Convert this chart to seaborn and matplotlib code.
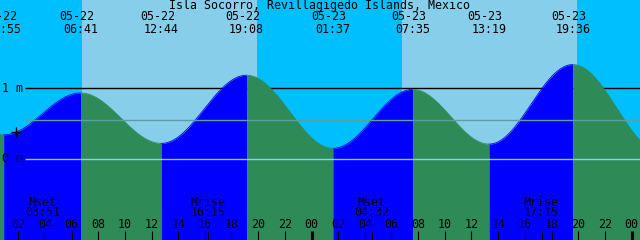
import numpy as np
import pandas as pd
import matplotlib
matplotlib.use("Agg")
import matplotlib.pyplot as plt
import seaborn as sns
from matplotlib.transforms import blended_transform_factory

# ---------------- data ----------------
title = "Isla Socorro, Revillagigedo Islands, Mexico"
extreme_dates = ["05-22", "05-22", "05-22", "05-22", "05-23", "05-23", "05-23", "05-23"]
extreme_days = [0, 0, 0, 0, 1, 1, 1, 1]
extreme_times = ["00:55", "06:41", "12:44", "19:08", "01:37", "07:35", "13:19", "19:36"]
extreme_heights = [0.34, 0.93, 0.22, 1.18, 0.15, 0.98, 0.21, 1.33]
# estimated extremes just outside the visible window (hours from 05-22 00:00, m)
prev_extreme_hour, prev_extreme_height = -5.6, 1.10
next_extreme_hour, next_extreme_height = 50.2, 0.10

sunrise_times = ["06:47", "06:47"]
sunset_times = ["19:55", "19:55"]
moon_names = ["Mset", "Mrise", "Mset", "Mrise"]
moon_times = ["03:51", "16:15", "04:32", "17:15"]
moon_days = [0, 0, 1, 1]

now_hour, now_height = 1.84, 0.38

hour_ticks = list(range(2, 49, 2))
tick_labels = [f"{h % 24:02d}" for h in hour_ticks]
level_values = [1.0, 0.55, 0.0]
level_labels = ["1 m", None, "0 m"]
level_colors = ["black", "#5f9ea0", "#87cefa"]

# ---------------- helpers ----------------
def hours(hhmm, day):
    h, m = hhmm.split(":")
    return 24 * day + int(h) + int(m) / 60.0

X0, X1 = 0.6375, 48.6375
PX_PER_M = 71.0
Y0 = -(240 - 159) / PX_PER_M
Y1 = 159 / PX_PER_M

def xpix(p):
    return p / 640 * (X1 - X0) + X0

def yfrac(p):
    return 1 - p / 240

ext_t = [prev_extreme_hour] + [hours(t, d) for t, d in zip(extreme_times, extreme_days)] + [next_extreme_hour]
ext_h = [prev_extreme_height] + extreme_heights + [next_extreme_height]

rows = []
for i in range(len(ext_t) - 1):
    t = np.linspace(ext_t[i], ext_t[i + 1], 300)
    f = (1 - np.cos(np.pi * (t - ext_t[i]) / (ext_t[i + 1] - ext_t[i]))) / 2
    h = ext_h[i] + (ext_h[i + 1] - ext_h[i]) * f
    for tt, hh in zip(t, h):
        rows.append((i, tt, hh, "rise" if ext_h[i + 1] > ext_h[i] else "fall"))
curve = pd.DataFrame(rows, columns=["seg", "hour", "height", "dir"])

# ---------------- plot ----------------
sns.set_theme(style="white")
plt.rcParams["font.family"] = ["DejaVu Sans Mono", "DejaVu Sans"]
plt.rcParams["text.color"] = "black"
FS = 8.4
TXT = dict(fontsize=FS, color="black", zorder=6)

fig = plt.figure(figsize=(6.4, 2.4), dpi=100)
ax = fig.add_axes([0, 0, 1, 1])
ax.set_facecolor("#00bfff")
ax.set_xlim(X0, X1)
ax.set_ylim(Y0, Y1)
for s in ax.spines.values():
    s.set_visible(False)
ax.set_xticks([])
ax.set_yticks([])
trans = blended_transform_factory(ax.transData, ax.transAxes)

for d, (sr, ss) in enumerate(zip(sunrise_times, sunset_times)):
    ax.axvspan(hours(sr, d), hours(ss, d), color="#87ceeb", lw=0, zorder=0)

line_start = xpix(25)
for v, c in zip(level_values, level_colors):
    ax.hlines(v, line_start, X1, colors=c, lw=1.0, zorder=1 if c == "black" else 3)

colors = {"rise": "#0000ff", "fall": "#2e8b57"}
for seg, g in curve.groupby("seg"):
    c = colors[g["dir"].iloc[0]]
    ax.fill_between(g["hour"], Y0, g["height"], color=c, lw=0, zorder=2)
    sns.lineplot(data=g, x="hour", y="height", color=c, lw=0.6, ax=ax, zorder=2,
                 legend=False, sort=False)

sns.scatterplot(x=[now_hour], y=[now_height], marker="+", s=60, color="black",
                linewidth=1.0, ax=ax, zorder=5)

for v, lab in zip(level_values, level_labels):
    if lab:
        ax.text(xpix(2), v, lab, ha="left", va="center", **TXT)

# top labels
ax.text(xpix(320), yfrac(6), title, transform=trans, ha="center", va="center", **TXT)
for dte, tm, d in zip(extreme_dates, extreme_times, extreme_days):
    t = hours(tm, d)
    ax.text(t - 0.3, yfrac(17), dte, transform=trans, ha="center", va="center", **TXT)
    ax.text(t, yfrac(29.5), tm, transform=trans, ha="center", va="center", **TXT)

# bottom ticks
for h, lab in zip(hour_ticks, tick_labels):
    ax.vlines(h, 0, 9 / 240, transform=trans, colors="black",
              lw=2.2 if h % 24 == 0 else 0.8, zorder=6)
    ax.text(h, yfrac(225), lab, transform=trans, ha="center", va="center", **TXT)

for name, tm, d in zip(moon_names, moon_times, moon_days):
    t = hours(tm, d)
    ax.vlines(t, 0, 8 / 240, transform=trans, colors="black", lw=0.8, zorder=6)
    ax.text(t, yfrac(202), name, transform=trans, ha="center", va="center", **TXT)
    ax.text(t, yfrac(213), tm, transform=trans, ha="center", va="center", **TXT)

fig.savefig("out.png", dpi=100)
